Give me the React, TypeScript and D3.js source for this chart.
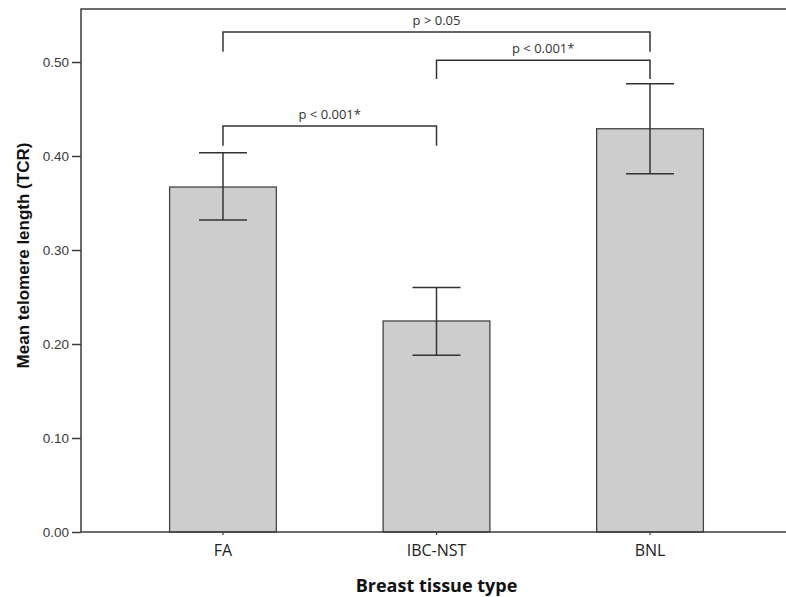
import React, { useEffect, useRef } from 'react';
import * as d3 from 'd3';

const categories = ['FA', 'IBC-NST', 'BNL'];
const means = [0.367, 0.2245, 0.429];
const lowerCI = [0.332, 0.188, 0.381];
const upperCI = [0.4035, 0.26, 0.477];
const yTicks = [0, 0.1, 0.2, 0.3, 0.4, 0.5];

// significance brackets: from / to category, bar height and leg end (data units)
const bracketFrom = ['FA', 'IBC-NST', 'FA'];
const bracketTo = ['BNL', 'BNL', 'IBC-NST'];
const bracketTop = [0.532, 0.502, 0.432];
const bracketLeg = [0.511, 0.482, 0.411];
const bracketLabels = ['p > 0.05', 'p < 0.001*', 'p < 0.001*'];

const W = 786;
const H = 597;
const margin = { top: 9, right: -6, bottom: 65, left: 81 };

export default function App() {
    const ref = useRef<SVGSVGElement>(null);

    useEffect(() => {
        const svg = d3.select(ref.current);
        svg.selectAll('*').remove();

        const x0 = margin.left;
        const x1 = W - margin.right;
        const y0 = H - margin.bottom;
        const y1 = margin.top;

        const x = d3.scaleBand<string>()
            .domain(categories)
            .range([x0, x1])
            .paddingInner(0.5)
            .paddingOuter(0.415);

        const y = d3.scaleLinear()
            .domain([0, 0.5564])
            .range([y0, y1]);

        const axisColor = '#3c3c3c';

        // bars
        svg.append('g')
            .selectAll('rect')
            .data(categories)
            .join('rect')
            .attr('x', (d) => x(d)!)
            .attr('y', (d, i) => y(means[i]))
            .attr('width', x.bandwidth())
            .attr('height', (d, i) => y0 - y(means[i]))
            .attr('fill', '#cdcdcd')
            .attr('stroke', '#444')
            .attr('stroke-width', 1.3);

        // error bars
        const capW = 24;
        const eb = svg.append('g')
            .attr('stroke', '#333')
            .attr('stroke-width', 1.5)
            .attr('fill', 'none');
        categories.forEach((c, i) => {
            const cx = x(c)! + x.bandwidth() / 2;
            eb.append('line')
                .attr('x1', cx).attr('x2', cx)
                .attr('y1', y(upperCI[i])).attr('y2', y(lowerCI[i]));
            eb.append('line')
                .attr('x1', cx - capW).attr('x2', cx + capW)
                .attr('y1', y(upperCI[i])).attr('y2', y(upperCI[i]));
            eb.append('line')
                .attr('x1', cx - capW).attr('x2', cx + capW)
                .attr('y1', y(lowerCI[i])).attr('y2', y(lowerCI[i]));
        });

        // frame (right edge falls just outside the picture)
        svg.append('rect')
            .attr('x', x0)
            .attr('y', y1)
            .attr('width', x1 - x0)
            .attr('height', y0 - y1)
            .attr('fill', 'none')
            .attr('stroke', axisColor)
            .attr('stroke-width', 1.5);

        // y axis
        const yAxis = svg.append('g')
            .attr('transform', `translate(${x0},0)`)
            .call(d3.axisLeft(y).tickValues(yTicks).tickFormat(d3.format('.2f')).tickSize(9).tickPadding(3));
        yAxis.select('.domain').remove();
        yAxis.selectAll('line').attr('stroke', axisColor).attr('stroke-width', 1.5);
        yAxis.selectAll('text')
            .attr('fill', '#3a3a3a')
            .style('font-family', '"Liberation Sans", Arial, sans-serif')
            .style('font-size', '13.5px');

        // x axis
        const xAxis = svg.append('g')
            .attr('transform', `translate(0,${y0})`)
            .call(d3.axisBottom(x).tickSize(3).tickPadding(10));
        xAxis.select('.domain').remove();
        xAxis.selectAll('line').attr('stroke', axisColor).attr('stroke-width', 1.2);
        xAxis.selectAll('text')
            .attr('fill', '#222')
            .attr('dy', '0.71em')
            .style('font-family', '"Open Sans", "Noto Sans", sans-serif')
            .style('font-size', '16px');

        // brackets
        const br = svg.append('g');
        bracketLabels.forEach((label, i) => {
            const xa = x(bracketFrom[i])! + x.bandwidth() / 2;
            const xb = x(bracketTo[i])! + x.bandwidth() / 2;
            const yt = y(bracketTop[i]);
            const yl = y(bracketLeg[i]);
            br.append('path')
                .attr('d', `M${xa},${yl}V${yt}H${xb}V${yl}`)
                .attr('fill', 'none')
                .attr('stroke', '#333')
                .attr('stroke-width', 1.5);
            br.append('text')
                .attr('x', (xa + xb) / 2)
                .attr('y', yt - 7)
                .attr('text-anchor', 'middle')
                .attr('fill', '#333')
                .style('font-family', '"Open Sans", "Noto Sans", sans-serif')
                .style('font-size', '13px')
                .text(label);
        });

        // axis titles
        svg.append('text')
            .attr('transform', `translate(29,${(y0 + y1) / 2 - 15}) rotate(-90)`)
            .attr('text-anchor', 'middle')
            .attr('fill', '#111')
            .style('font-family', '"Liberation Sans", Arial, sans-serif')
            .style('font-weight', 'bold')
            .style('font-size', '17px')
            .text('Mean telomere length (TCR)');

        svg.append('text')
            .attr('x', x('IBC-NST')! + x.bandwidth() / 2)
            .attr('y', 592)
            .attr('text-anchor', 'middle')
            .attr('fill', '#111')
            .style('font-family', '"Open Sans", "Noto Sans", sans-serif')
            .style('font-weight', 'bold')
            .style('font-size', '18px')
            .text('Breast tissue type');
    }, []);

    return (
        <div>
            <style>{'body{margin:0;background:#fff}'}</style>
            <svg ref={ref} width={W} height={H} style={{ display: 'block' }} />
        </div>
    );
}
